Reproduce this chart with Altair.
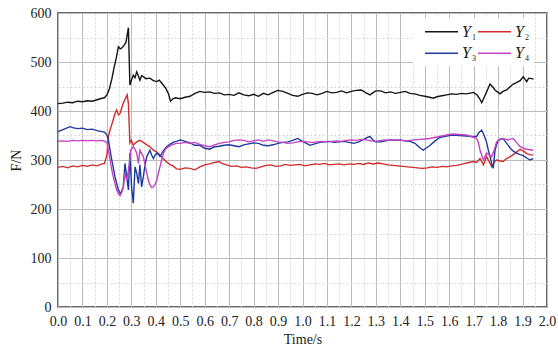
import altair as alt
import pandas as pd

# ---- measured force traces (time in s, force in N) ----
y1_t = [0.00, 0.02, 0.04, 0.06, 0.08, 0.10, 0.12, 0.14, 0.16, 0.18, 0.19, 0.20, 0.21, 0.22, 0.23, 0.24,
        0.247, 0.255, 0.262, 0.27, 0.278, 0.288, 0.294, 0.30, 0.308, 0.315, 0.322, 0.33, 0.335, 0.342,
        0.349, 0.36, 0.376, 0.39, 0.404, 0.414, 0.424, 0.44, 0.452, 0.46, 0.47, 0.48, 0.50, 0.52, 0.54,
        0.56, 0.58, 0.60, 0.62, 0.64, 0.66, 0.68, 0.70, 0.72, 0.74, 0.76, 0.78, 0.80, 0.82, 0.84, 0.86,
        0.88, 0.90, 0.92, 0.94, 0.96, 0.98, 1.00, 1.02, 1.04, 1.06, 1.08, 1.10, 1.12, 1.14, 1.16, 1.18,
        1.20, 1.22, 1.24, 1.26, 1.276, 1.29, 1.30, 1.32, 1.34, 1.36, 1.38, 1.40, 1.42, 1.44, 1.46, 1.48,
        1.50, 1.52, 1.535, 1.55, 1.57, 1.59, 1.61, 1.63, 1.65, 1.67, 1.69, 1.70, 1.715, 1.726, 1.733,
        1.745, 1.753, 1.767, 1.78, 1.787, 1.80, 1.808, 1.82, 1.835, 1.85, 1.862, 1.875, 1.89, 1.903,
        1.91, 1.917, 1.925, 1.937, 1.945]
y1_v = [415, 416, 418, 417, 420, 419, 421, 420, 423, 426, 427, 433, 445, 465, 490, 512,
        531, 527, 529, 534, 540, 570, 453, 462, 473, 468, 480, 470, 463, 472,
        470, 466, 467, 462, 460, 463, 457, 447, 435, 420, 425, 427, 425, 428, 430,
        436, 440, 438, 439, 436, 437, 433, 434, 432, 437, 433, 431, 434, 430, 436, 433,
        438, 442, 440, 436, 432, 430, 434, 437, 436, 433, 436, 440, 437, 438, 441, 437,
        440, 442, 443, 437, 433, 438, 441, 441, 437, 439, 436, 438, 440, 436, 435, 432,
        430, 428, 426, 429, 431, 433, 435, 434, 436, 435, 437, 438, 432, 424, 417,
        430, 439, 455, 448, 443, 438, 435, 440, 443, 450, 455, 458, 462, 470,
        465, 460, 467, 466, 465]

y2_t = [0.00, 0.02, 0.04, 0.06, 0.08, 0.10, 0.12, 0.14, 0.16, 0.18, 0.19, 0.20, 0.206, 0.215, 0.226,
        0.233, 0.24, 0.247, 0.254, 0.26, 0.267, 0.275, 0.283, 0.288, 0.294, 0.30, 0.308, 0.315, 0.322,
        0.335, 0.349, 0.363, 0.376, 0.39, 0.404, 0.417, 0.43, 0.444, 0.457, 0.47, 0.485, 0.50, 0.52,
        0.54, 0.56, 0.58, 0.60, 0.62, 0.64, 0.66, 0.67, 0.69, 0.71, 0.73, 0.75, 0.77, 0.79, 0.81, 0.83,
        0.85, 0.87, 0.89, 0.91, 0.93, 0.95, 0.97, 0.99, 1.01, 1.03, 1.05, 1.07, 1.09, 1.11, 1.13, 1.15,
        1.17, 1.19, 1.21, 1.23, 1.25, 1.27, 1.29, 1.31, 1.33, 1.35, 1.37, 1.39, 1.41, 1.43, 1.45, 1.47,
        1.49, 1.51, 1.53, 1.55, 1.57, 1.59, 1.61, 1.63, 1.65, 1.67, 1.69, 1.70, 1.712, 1.726, 1.74,
        1.753, 1.765, 1.774, 1.785, 1.794, 1.81, 1.82, 1.835, 1.85, 1.862, 1.875, 1.89, 1.905, 1.917,
        1.93, 1.944]
y2_v = [285, 287, 284, 288, 286, 289, 287, 290, 288, 292, 293, 310, 348, 365, 382,
        395, 402, 392, 395, 405, 416, 425, 433, 415, 335, 340, 330, 334, 337,
        340, 336, 331, 327, 320, 316, 310, 303, 296, 291, 288, 282, 281, 284,
        283, 280, 286, 290, 292, 295, 297, 293, 290, 287, 288, 285, 286, 284, 283, 286,
        289, 290, 287, 288, 291, 289, 290, 291, 288, 290, 292, 291, 293, 290, 291, 292,
        290, 292, 291, 293, 291, 294, 292, 294, 292, 290, 289, 288, 287, 286, 285, 284,
        283, 284, 286, 285, 287, 286, 288, 289, 291, 294, 296, 297, 295, 303, 290,
        307, 295, 286, 296, 300, 298, 297, 303, 307, 311, 316, 322, 318, 313,
        311, 310]

y3_t = [0.00, 0.02, 0.04, 0.05, 0.06, 0.08, 0.10, 0.12, 0.14, 0.16, 0.18, 0.19, 0.20, 0.206, 0.213,
        0.22, 0.233, 0.247, 0.254, 0.26, 0.267, 0.274, 0.281, 0.288, 0.294, 0.301, 0.308, 0.315, 0.322,
        0.329, 0.335, 0.342, 0.349, 0.356, 0.363, 0.376, 0.383, 0.39, 0.397, 0.404, 0.41, 0.417, 0.43,
        0.444, 0.46, 0.475, 0.485, 0.50, 0.52, 0.54, 0.56, 0.58, 0.60, 0.62, 0.64, 0.66, 0.68, 0.70,
        0.72, 0.74, 0.76, 0.78, 0.80, 0.82, 0.84, 0.86, 0.88, 0.90, 0.92, 0.94, 0.96, 0.98, 1.00, 1.02,
        1.03, 1.05, 1.07, 1.09, 1.11, 1.13, 1.15, 1.17, 1.19, 1.21, 1.23, 1.25, 1.27, 1.276, 1.29, 1.30,
        1.32, 1.34, 1.36, 1.38, 1.40, 1.42, 1.44, 1.46, 1.48, 1.494, 1.51, 1.52, 1.54, 1.562, 1.58,
        1.60, 1.617, 1.64, 1.67, 1.69, 1.712, 1.72, 1.733, 1.743, 1.753, 1.76, 1.767, 1.775, 1.78,
        1.787, 1.793, 1.80, 1.81, 1.82, 1.835, 1.85, 1.862, 1.876, 1.89, 1.903, 1.917, 1.93, 1.944]
y3_v = [358, 362, 366, 368, 366, 364, 365, 362, 363, 360, 358, 357, 351, 341, 320,
        300, 266, 239, 232, 236, 245, 293, 266, 239, 314, 245, 212, 286, 273,
        252, 290, 245, 266, 290, 307, 320, 310, 303, 310, 314, 312, 307, 318,
        327, 333, 337, 338, 341, 338, 335, 330, 330, 324, 322, 327, 328, 330, 331,
        329, 327, 331, 333, 335, 334, 330, 329, 331, 334, 336, 337, 340, 344, 338, 333,
        330, 333, 336, 337, 338, 336, 337, 338, 336, 334, 337, 342, 347, 348, 340, 337,
        337, 339, 341, 340, 341, 339, 338, 334, 325, 320, 326, 329, 338, 346, 348,
        350, 351, 350, 349, 348, 348, 355, 361, 350, 336, 320, 307, 290, 283,
        318, 330, 340, 343, 344, 334, 324, 318, 314, 311, 309, 304, 300, 303]

y4_t = [0.00, 0.02, 0.04, 0.06, 0.08, 0.10, 0.12, 0.14, 0.16, 0.18, 0.19, 0.20, 0.206, 0.213, 0.22,
        0.226, 0.233, 0.24, 0.247, 0.254, 0.26, 0.267, 0.274, 0.281, 0.287, 0.292, 0.297, 0.308, 0.315,
        0.322, 0.329, 0.335, 0.342, 0.349, 0.356, 0.363, 0.37, 0.376, 0.383, 0.39, 0.397, 0.404, 0.41,
        0.417, 0.424, 0.431, 0.44, 0.451, 0.465, 0.485, 0.50, 0.52, 0.54, 0.56, 0.58, 0.60, 0.62, 0.64,
        0.66, 0.68, 0.70, 0.72, 0.74, 0.76, 0.78, 0.80, 0.82, 0.84, 0.86, 0.88, 0.90, 0.92, 0.94, 0.96,
        0.98, 1.00, 1.02, 1.04, 1.06, 1.08, 1.10, 1.12, 1.14, 1.16, 1.18, 1.20, 1.22, 1.24, 1.26, 1.28,
        1.30, 1.32, 1.34, 1.36, 1.38, 1.40, 1.42, 1.44, 1.46, 1.48, 1.50, 1.52, 1.54, 1.56, 1.58, 1.60,
        1.617, 1.64, 1.67, 1.69, 1.712, 1.72, 1.726, 1.733, 1.74, 1.747, 1.753, 1.765, 1.774, 1.785,
        1.794, 1.81, 1.82, 1.84, 1.862, 1.875, 1.89, 1.905, 1.917, 1.93, 1.944]
y4_v = [338, 339, 338, 340, 339, 340, 339, 340, 339, 340, 338, 336, 320, 300, 280,
        266, 252, 239, 231, 227, 233, 245, 273, 259, 275, 293, 320, 327, 322,
        314, 293, 320, 313, 307, 290, 273, 258, 249, 244, 245, 250, 259, 272,
        286, 300, 314, 322, 327, 331, 334, 334, 336, 334, 336, 332, 329, 327, 331,
        334, 336, 337, 340, 341, 340, 337, 339, 341, 338, 341, 339, 337, 336, 334, 335,
        337, 338, 337, 336, 337, 338, 337, 338, 339, 338, 340, 341, 340, 342, 341, 339,
        338, 340, 341, 340, 341, 340, 339, 340, 341, 342, 343, 344, 346, 348, 350, 352,
        353, 352, 351, 348, 344, 335, 320, 310, 300, 308, 314, 310, 307, 322,
        337, 342, 344, 341, 344, 336, 327, 324, 322, 321, 320]

series_names = ["Y1", "Y2", "Y3", "Y4"]
series_colors = ["#151515", "#d12b2b", "#1e3a9e", "#c442c4"]

frames = []
for name, ts, vs in zip(series_names, [y1_t, y2_t, y3_t, y4_t], [y1_v, y2_v, y3_v, y4_v]):
    frames.append(pd.DataFrame({"t": ts, "F": vs, "series": name}))
df = pd.concat(frames, ignore_index=True)

SERIF = "Liberation Serif"
MAJOR_GRID = "#bcbcbc"
MINOR_GRID = "#d6d6d6"

# ticks every 0.05 s / 50 N; the half steps become dashed minor grid lines
x_ticks = [round(i * 0.05, 2) for i in range(41)]
y_ticks = [i * 50 for i in range(13)]
x_minor = "round(datum.value * 20) % 2 == 1"
y_minor = "datum.value % 100 != 0"

x_axis = alt.Axis(
    values=x_ticks,
    labelExpr=f"{x_minor} ? '' : format(datum.value, '.1f')",
    title="Time/s",
    grid=True,
    gridColor={"condition": {"test": x_minor, "value": MINOR_GRID}, "value": MAJOR_GRID},
    gridDash={"condition": {"test": x_minor, "value": [2, 2]}, "value": []},
    gridWidth=1,
    ticks=False,
    domain=False,
    labelFont=SERIF,
    labelFontSize=14,
    labelColor="#222222",
    labelPadding=7,
    labelFlush=False,
    labelOverlap=False,
    titleFont=SERIF,
    titleFontSize=14,
    titleFontWeight="normal",
    titleColor="#222222",
    titlePadding=4,
)

y_axis = alt.Axis(
    values=y_ticks,
    labelExpr=f"{y_minor} ? '' : format(datum.value, 'd')",
    title="F/N",
    grid=True,
    gridColor={"condition": {"test": y_minor, "value": MINOR_GRID}, "value": MAJOR_GRID},
    gridDash={"condition": {"test": y_minor, "value": [2, 2]}, "value": []},
    gridWidth=1,
    ticks=False,
    domain=False,
    labelFont=SERIF,
    labelFontSize=14,
    labelColor="#222222",
    labelPadding=7,
    labelFlush=False,
    labelOverlap=False,
    titleFont=SERIF,
    titleFontSize=14,
    titleFontWeight="normal",
    titleColor="#222222",
    titlePadding=7,
)

lines = alt.Chart(df).mark_line(strokeWidth=1.4).encode(
    x=alt.X("t:Q", scale=alt.Scale(domain=[0, 2.0], nice=False, zero=False), axis=x_axis),
    y=alt.Y("F:Q", scale=alt.Scale(domain=[0, 600], nice=False), axis=y_axis),
    color=alt.Color("series:N", scale=alt.Scale(domain=series_names, range=series_colors), legend=None),
    order="t:Q",
)

# in-plot legend: white panel, 2 x 2 entries with italic Y and subscript index
one_row = pd.DataFrame({"k": [0]})
legend_layers = [
    alt.Chart(one_row).mark_rect(color="white").encode(
        x=alt.value(355), x2=alt.value(476), y=alt.value(5), y2=alt.value(53)
    )
]
for i, (name, color) in enumerate(zip(series_names, series_colors)):
    col, row = i % 2, i // 2
    x0 = 367 + col * 53
    y0 = 18.7 + row * 21.6
    legend_layers.append(
        alt.Chart(one_row).mark_rule(color=color, strokeWidth=1.6).encode(
            x=alt.value(x0), x2=alt.value(x0 + 33), y=alt.value(y0)
        )
    )
    legend_layers.append(
        alt.Chart(one_row).mark_text(
            text="Y", font=SERIF, fontSize=16, fontStyle="italic", color="#222222",
            align="left", baseline="middle"
        ).encode(x=alt.value(x0 + 37), y=alt.value(y0))
    )
    legend_layers.append(
        alt.Chart(one_row).mark_text(
            text=name[1:], font=SERIF, fontSize=8, color="#222222",
            align="left", baseline="middle"
        ).encode(x=alt.value(x0 + 47), y=alt.value(y0 + 6))
    )

chart = alt.layer(lines, *legend_layers).properties(
    width=489,
    height=294,
    autosize=alt.AutoSizeParams(type="none"),
    padding={"left": 58, "top": 13, "right": 11, "bottom": 42},
    background="white",
).configure_view(stroke="#3a3a3a", strokeWidth=1.5)

chart.save("out.html", embed_options={"renderer": "svg", "actions": False})
